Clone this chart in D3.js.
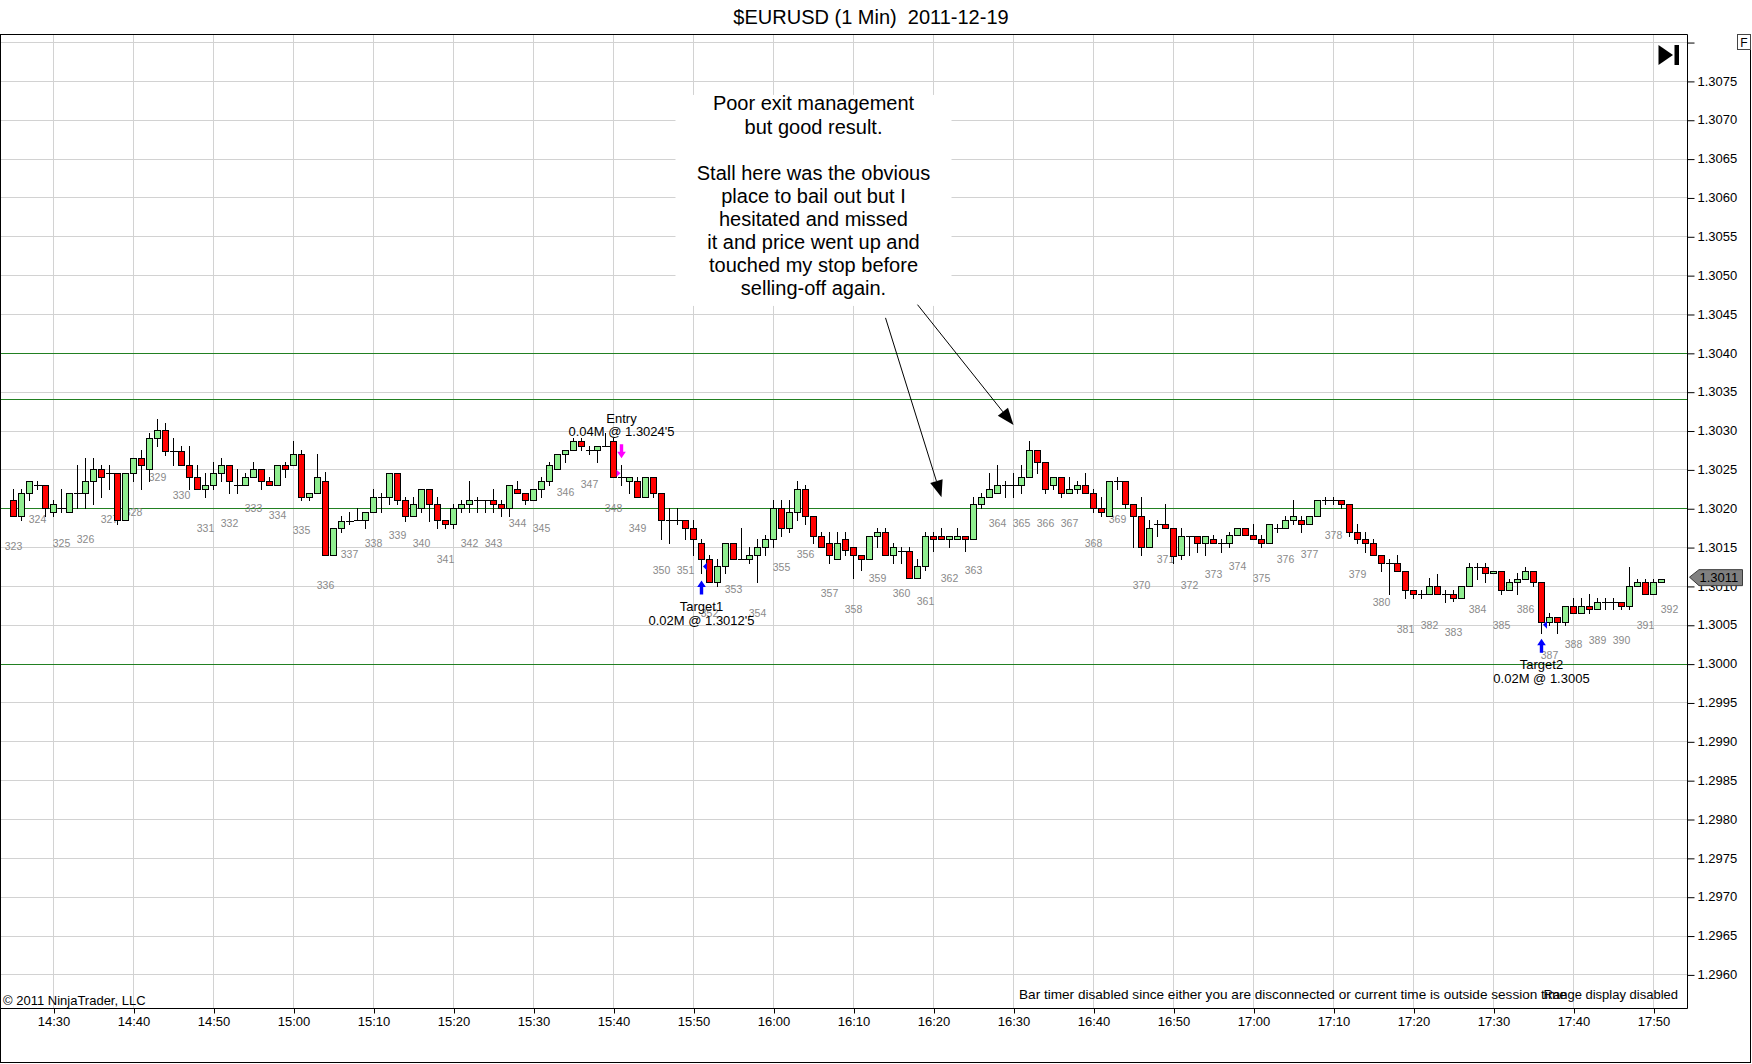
<!DOCTYPE html>
<html><head><meta charset="utf-8">
<script src="https://cdn.jsdelivr.net/npm/d3@7"></script>
<style>
html,body{margin:0;padding:0;background:#fff;}
svg{display:block;}
text{font-family:"Liberation Sans",Arial,sans-serif;}
</style>
</head><body>
<svg id="chart" width="1752" height="1064"></svg>
<script>
// ---------------- DATA ----------------
const chartTitle = "$EURUSD (1 Min)  2011-12-19";
const sessionDay = "2011-12-19";
const firstBarTime = "14:25";
const opens = [
1.30211,1.3019,1.3022,1.3023,1.3023,1.30195,1.3020,1.30195,1.3022,1.3022,
1.30235,1.3025,1.30245,1.30245,1.30185,1.30245,1.30265,1.3025,1.3029,1.30301,
1.30274,1.30274,1.30256,1.3024,1.30225,1.3023,1.30245,1.30256,1.3023,1.3023,
1.3024,1.3025,1.30235,1.3023,1.30256,1.30256,1.3027,1.30214,1.3022,1.30235,
1.3014,1.30174,1.30184,1.30185,1.30185,1.30195,1.30214,1.30214,1.30245,1.30211,
1.3019,1.3020,1.30225,1.30205,1.30185,1.3018,1.3020,1.30205,1.30211,1.30211,
1.30211,1.30205,1.3020,1.30225,1.3022,1.30211,1.30225,1.30235,1.3025,1.3027,
1.30275,1.30286,1.30275,1.30275,1.3028,1.30286,1.3024,1.30235,1.30235,1.30214,
1.3024,1.3022,1.30185,1.30185,1.30185,1.30174,1.30155,1.30135,1.30105,1.30125,
1.30155,1.30135,1.30135,1.3014,1.3015,1.3016,1.3020,1.30174,1.30195,1.30225,
1.3019,1.30164,1.30155,1.30135,1.3016,1.3015,1.3014,1.30135,1.30164,1.30169,
1.3014,1.30145,1.30145,1.3011,1.30125,1.30164,1.30164,1.3016,1.3016,1.30164,
1.3016,1.30205,1.30214,1.3022,1.3023,1.3023,1.3023,1.3024,1.30275,1.3026,
1.3023,1.3024,1.3022,1.30225,1.3023,1.3022,1.3020,1.3019,1.30235,1.30235,
1.30205,1.3019,1.3015,1.3018,1.3018,1.30174,1.3014,1.30164,1.30164,1.30155,
1.3016,1.30155,1.30155,1.30165,1.30174,1.30165,1.3016,1.30155,1.30174,1.30174,
1.30185,1.30185,1.3018,1.3019,1.30211,1.30211,1.30211,1.30205,1.3017,1.3016,
1.30155,1.3014,1.30129,1.30129,1.30119,1.30095,1.30089,1.30089,1.301,1.30089,
1.30089,1.30084,1.301,1.30124,1.30124,1.30116,1.30119,1.30095,1.30105,1.30109,
1.30119,1.30105,1.30054,1.3006,1.30054,1.30074,1.30065,1.30074,1.3007,1.30079,
1.30079,1.30079,1.30074,1.301,1.30105,1.30089,1.30105];
const highs = [
1.30225,1.30225,1.30235,1.30235,1.3023,1.30211,1.30225,1.3022,1.30256,1.30265,
1.30265,1.30256,1.30256,1.30245,1.30245,1.30265,1.30275,1.30297,1.30315,1.3031,
1.3029,1.3028,1.3028,1.30256,1.30245,1.3026,1.30265,1.30256,1.3025,1.30245,
1.3026,1.3025,1.3024,1.30256,1.3026,1.30286,1.30275,1.3022,1.3027,1.30246,
1.30174,1.3019,1.30195,1.3020,1.30195,1.30225,1.3022,1.30245,1.30245,1.30214,
1.30214,1.30225,1.30225,1.30214,1.30185,1.30205,1.30211,1.30235,1.30215,1.30211,
1.30225,1.30211,1.3023,1.30235,1.3022,1.30225,1.3024,1.3026,1.3027,1.30275,
1.3029,1.3029,1.3028,1.3028,1.30297,1.3029,1.30256,1.3024,1.3024,1.3024,
1.3024,1.3022,1.3020,1.3020,1.30185,1.30185,1.3016,1.3014,1.30135,1.30155,
1.30155,1.30174,1.3015,1.3016,1.30166,1.30211,1.30211,1.30211,1.30235,1.3023,
1.3019,1.30169,1.30169,1.30169,1.30169,1.3015,1.3014,1.30164,1.30174,1.30174,
1.30155,1.3015,1.3015,1.30135,1.30169,1.30169,1.30174,1.30164,1.30174,1.30164,
1.30215,1.3022,1.30245,1.30256,1.30235,1.30245,1.30256,1.30286,1.30275,1.3026,
1.3024,1.3024,1.3024,1.30235,1.30245,1.30225,1.30214,1.30235,1.3024,1.30235,
1.30205,1.30214,1.30185,1.30185,1.30205,1.30174,1.30174,1.30164,1.30164,1.30164,
1.30165,1.3016,1.3017,1.30174,1.30174,1.3018,1.30165,1.3018,1.3018,1.3019,
1.30211,1.3019,1.3019,1.30211,1.30215,1.30215,1.30211,1.30205,1.3018,1.3017,
1.3016,1.3014,1.30135,1.3014,1.30119,1.30095,1.30095,1.3011,1.30115,1.30095,
1.30095,1.301,1.30129,1.30129,1.30129,1.30119,1.30119,1.30109,1.30116,1.30124,
1.30119,1.30105,1.30065,1.3006,1.30074,1.30084,1.30084,1.30089,1.30084,1.30084,
1.30084,1.30079,1.30124,1.30109,1.30109,1.30109,1.30109];
const lows = [
1.3019,1.30185,1.30211,1.30225,1.3019,1.3019,1.30195,1.30195,1.3020,1.3020,
1.30205,1.30214,1.30225,1.3018,1.30185,1.30235,1.30225,1.30235,1.3028,1.30269,
1.30256,1.30256,1.30225,1.30225,1.30214,1.30225,1.30235,1.3022,1.3022,1.3023,
1.3024,1.30225,1.3023,1.3023,1.3024,1.30256,1.30211,1.30211,1.3022,1.3014,
1.3014,1.30169,1.3018,1.30185,1.30174,1.30195,1.30195,1.30205,1.30205,1.30184,
1.3019,1.30195,1.30184,1.30174,1.30174,1.30174,1.30195,1.30195,1.30195,1.30195,
1.30195,1.3019,1.3019,1.3022,1.30205,1.30211,1.30214,1.3023,1.3025,1.3026,
1.30275,1.30275,1.3027,1.3026,1.3028,1.3024,1.3023,1.3022,1.30214,1.30214,
1.30214,1.3016,1.30155,1.3018,1.3016,1.3014,1.30117,1.30105,1.301,1.30117,
1.30135,1.30135,1.3013,1.30105,1.3014,1.3015,1.30164,1.30169,1.30185,1.3018,
1.30155,1.3015,1.3013,1.30135,1.3014,1.3011,1.3012,1.30135,1.3015,1.3014,
1.3013,1.3013,1.3011,1.3011,1.3012,1.30145,1.3016,1.3015,1.3016,1.30145,
1.3016,1.3020,1.30214,1.3022,1.30214,1.30214,1.3022,1.3024,1.30245,1.3022,
1.30225,1.30214,1.3022,1.3022,1.3022,1.30195,1.3019,1.3019,1.30225,1.3020,
1.3015,1.3014,1.3015,1.30164,1.30174,1.30129,1.30135,1.3014,1.30144,1.3014,
1.30155,1.30144,1.3015,1.30165,1.30165,1.3016,1.3015,1.30155,1.3017,1.30174,
1.3018,1.3017,1.3018,1.3019,1.30205,1.30205,1.3020,1.30164,1.30155,1.30144,
1.3014,1.30119,1.30089,1.30119,1.30084,1.30084,1.30084,1.30089,1.30089,1.30079,
1.3008,1.30084,1.301,1.30109,1.30105,1.30116,1.30089,1.30095,1.30089,1.30109,
1.301,1.30039,1.3005,1.30039,1.3005,1.30065,1.30065,1.30065,1.3007,1.3007,
1.3007,1.3007,1.3007,1.301,1.30089,1.30089,1.30105];
const closes = [
1.3019,1.3022,1.30235,1.3023,1.3020,1.30205,1.3020,1.3022,1.3022,1.30235,
1.3025,1.3024,1.30245,1.30185,1.30245,1.30265,1.30256,1.3029,1.30301,1.30274,
1.30274,1.30256,1.3024,1.30225,1.3023,1.30245,1.30256,1.30235,1.3023,1.3024,
1.3025,1.30235,1.3023,1.30256,1.3025,1.3027,1.30214,1.3022,1.3024,1.3014,
1.30174,1.30184,1.30184,1.30185,1.30195,1.30214,1.30214,1.30245,1.30211,1.3019,
1.30205,1.30225,1.30205,1.30185,1.3018,1.3020,1.30205,1.30211,1.30211,1.30211,
1.30205,1.3020,1.3023,1.3022,1.30211,1.30225,1.30235,1.30256,1.3027,1.30275,
1.30286,1.3028,1.30275,1.3028,1.3028,1.3024,1.3024,1.3024,1.30214,1.3024,
1.3022,1.30185,1.30185,1.30185,1.30174,1.3016,1.30135,1.30105,1.30125,1.30155,
1.30135,1.30135,1.3014,1.3015,1.3016,1.3020,1.30174,1.30195,1.30225,1.3019,
1.30164,1.3015,1.3014,1.30155,1.30146,1.3014,1.30135,1.30164,1.30169,1.3014,
1.3015,1.30145,1.3011,1.30125,1.30164,1.3016,1.3016,1.30164,1.30164,1.3016,
1.30205,1.30214,1.30225,1.3023,1.3023,1.3023,1.3024,1.30275,1.3026,1.30225,
1.3024,1.3022,1.30225,1.3023,1.3022,1.3020,1.30195,1.30235,1.30235,1.30205,
1.3019,1.3015,1.30174,1.3018,1.30174,1.30139,1.30164,1.30164,1.30155,1.30164,
1.30155,1.30155,1.30165,1.30174,1.30165,1.3016,1.30155,1.3018,1.30174,1.30185,
1.3019,1.3018,1.3019,1.30211,1.30211,1.30211,1.30205,1.3017,1.3016,1.30155,
1.3014,1.30129,1.30129,1.30119,1.30095,1.30089,1.30089,1.301,1.30089,1.30089,
1.30084,1.301,1.30124,1.30124,1.30116,1.30119,1.30095,1.30105,1.30109,1.30119,
1.30105,1.30054,1.3006,1.30054,1.30074,1.30065,1.30074,1.3007,1.30079,1.30079,
1.30079,1.30074,1.301,1.30105,1.30089,1.30105,1.30109];
const lastPrice = 1.3011;
const firstBarNumber = 323;     // bar counter label shown every 3rd bar
const barNumberStep = 3;
const barNumberCount = 70;      // 323 .. 392

const levelLines = [1.3040, 1.3034, 1.3020, 1.3000];

const xTickLabels = ["14:30","14:40","14:50","15:00","15:10","15:20","15:30","15:40","15:50",
  "16:00","16:10","16:20","16:30","16:40","16:50","17:00","17:10","17:20","17:30","17:40","17:50"];
const yTickValues = [1.2960,1.2965,1.2970,1.2975,1.2980,1.2985,1.2990,1.2995,1.3000,1.3005,1.3010,
  1.3015,1.3020,1.3025,1.3030,1.3035,1.3040,1.3045,1.3050,1.3055,1.3060,1.3065,1.3070,1.3075,1.3080];
const yLabelMax = 1.3075;

const execBars = [76, 86, 191];
const execPrices = [1.30245, 1.30125, 1.3005];
const execSides = ["sell", "buy", "buy"];
const execNames = ["Entry", "Target1", "Target2"];
const execTexts = ["0.04M @ 1.3024'5", "0.02M @ 1.3012'5", "0.02M @ 1.3005"];

const noteLines = ["Poor exit management", "but good result.", "", "Stall here was the obvious",
  "place to bail out but I", "hesitated and missed", "it and price went up and",
  "touched my stop before", "selling-off again."];
const noteAnchor = {time: "16:05", price: 1.30712};
const noteArrowsFrom = [{time: "16:14", price: 1.30445}, {time: "16:18", price: 1.30462}];
const noteArrowsTo   = [{time: "16:21", price: 1.30214}, {time: "16:30", price: 1.30307}];

const copyrightText = "\u00A9 2011 NinjaTrader, LLC";
const statusText = "Bar timer disabled since either you are disconnected or current time is outside session time";
const rangeText = "Range display disabled";

// ---------------- SCALES ----------------
const svg = d3.select("#chart");
const parse = d3.timeParse("%Y-%m-%d %H:%M");
const T = s => parse(sessionDay + " " + s);
const plotL = 0.5, plotT = 34.5, plotR = 1687.5, plotB = 1008.5;

const x = d3.scaleTime().domain([T("14:30"), T("17:50")]).range([53.5, 1653.5]);
const y = d3.scaleLinear().domain([1.2960, 1.3075]).range([974.4, 80.9]);
const px = v => Math.floor(x(v)) + 0.5;
const py = v => Math.round(y(v)) + 0.5;

const t0 = T(firstBarTime);
const bars = opens.map((o, i) => ({
  i, t: d3.timeMinute.offset(t0, i), o, h: highs[i], l: lows[i], c: closes[i]
}));

svg.append("rect").attr("width", 1752).attr("height", 1064).attr("fill", "#fff");

const defs = svg.append("defs");
defs.append("clipPath").attr("id", "plotclip").append("rect")
  .attr("x", 1).attr("y", 35).attr("width", plotR - 1).attr("height", plotB - 35);

const plot = svg.append("g").attr("clip-path", "url(#plotclip)");

// grid
const gridColor = "#d2d2d2";
plot.append("g").selectAll("line").data(xTickLabels).join("line")
  .attr("x1", d => px(T(d))).attr("x2", d => px(T(d)))
  .attr("y1", plotT).attr("y2", plotB)
  .attr("stroke", gridColor).attr("stroke-width", 1);
plot.append("g").selectAll("line").data(yTickValues).join("line")
  .attr("x1", plotL).attr("x2", plotR)
  .attr("y1", d => py(d)).attr("y2", d => py(d))
  .attr("stroke", gridColor).attr("stroke-width", 1);

// level lines
plot.append("g").selectAll("line").data(levelLines).join("line")
  .attr("x1", plotL).attr("x2", plotR)
  .attr("y1", d => py(d)).attr("y2", d => py(d))
  .attr("stroke", "#228022").attr("stroke-width", 1);

// note box background (hides the grid like the original text object)
const nax = x(T(noteAnchor.time)), nay = y(noteAnchor.price);
plot.append("rect").attr("x", nax - 138).attr("y", nay - 15.5)
  .attr("width", 276).attr("height", 211).attr("fill", "#fff");

// bar number labels
const barNums = d3.range(barNumberCount).map(k => ({
  n: firstBarNumber + k, i: k * barNumberStep
}));
plot.append("g").selectAll("text").data(barNums).join("text")
  .attr("x", d => px(d3.timeMinute.offset(t0, d.i)))
  .attr("y", d => y(d.i < lows.length ? lows[d.i] : lastPrice) + 34.5)
  .attr("text-anchor", "middle")
  .attr("font-size", "10.5px").attr("fill", "#8a8a8a")
  .text(d => d.n);

// candles
const cg = plot.append("g");
cg.selectAll("line.wick").data(bars).join("line").attr("class", "wick")
  .attr("x1", d => px(d.t)).attr("x2", d => px(d.t))
  .attr("y1", d => py(d.h) - 0.5).attr("y2", d => py(d.l) + 0.5)
  .attr("stroke", "#000").attr("stroke-width", 1);
const isDoji = d => Math.round(y(d.o)) === Math.round(y(d.c));
cg.selectAll("line.doji").data(bars.filter(isDoji)).join("line").attr("class", "doji")
  .attr("x1", d => px(d.t) - 3.5).attr("x2", d => px(d.t) + 4.5)
  .attr("y1", d => py(d.o)).attr("y2", d => py(d.o))
  .attr("stroke", "#000").attr("stroke-width", 1);
cg.selectAll("rect.body").data(bars.filter(d => !isDoji(d))).join("rect").attr("class", "body")
  .attr("x", d => px(d.t) - 3)
  .attr("y", d => Math.min(py(d.o), py(d.c)))
  .attr("width", 6)
  .attr("height", d => Math.abs(py(d.o) - py(d.c)))
  .attr("fill", d => d.c >= d.o ? "#90ee90" : "#ff0000")
  .attr("stroke", "#000").attr("stroke-width", 1);

// executions
const execs = execBars.map((b, k) => ({
  t: d3.timeMinute.offset(t0, b), price: execPrices[k], side: execSides[k],
  name: execNames[k], text: execTexts[k]
}));
const eg = plot.append("g");
execs.forEach(e => {
  const cx = px(e.t), fy = y(e.price);
  const col = e.side === "sell" ? "#ff00ff" : "#0000ff";
  if (e.side === "sell") {
    eg.append("path").attr("d", `M${cx - 1},${fy} L${cx - 5},${fy - 3.5} L${cx - 5},${fy + 3.5} Z`).attr("fill", col);
    const tip = fy - 15, top = fy - 29;
    eg.append("path").attr("d",
      `M${cx},${tip} L${cx + 4.3},${tip - 6.5} L${cx + 1.7},${tip - 6.5} L${cx + 1.7},${top} L${cx - 1.7},${top} L${cx - 1.7},${tip - 6.5} L${cx - 4.3},${tip - 6.5} Z`)
      .attr("fill", col);
    eg.append("text").attr("x", cx).attr("y", fy - 37.3).attr("text-anchor", "middle")
      .attr("font-size", "13px").attr("fill", "#000").text(e.text);
    eg.append("text").attr("x", cx).attr("y", fy - 50.6).attr("text-anchor", "middle")
      .attr("font-size", "13px").attr("fill", "#000").text(e.name);
  } else {
    eg.append("path").attr("d", `M${cx + 1.5},${fy} L${cx + 5.5},${fy - 4} L${cx + 5.5},${fy + 4} Z`).attr("fill", col);
    const tip = fy + 14, bot = fy + 28;
    eg.append("path").attr("d",
      `M${cx},${tip} L${cx + 4.3},${tip + 6.5} L${cx + 1.7},${tip + 6.5} L${cx + 1.7},${bot} L${cx - 1.7},${bot} L${cx - 1.7},${tip + 6.5} L${cx - 4.3},${tip + 6.5} Z`)
      .attr("fill", col);
    eg.append("text").attr("x", cx).attr("y", fy + 44.2).attr("text-anchor", "middle")
      .attr("font-size", "13px").attr("fill", "#000").text(e.name);
    eg.append("text").attr("x", cx).attr("y", fy + 58.5).attr("text-anchor", "middle")
      .attr("font-size", "13px").attr("fill", "#000").text(e.text);
  }
});

// note text
plot.append("g").selectAll("text").data(noteLines).join("text")
  .attr("x", nax).attr("y", (d, k) => nay + k * 23.1)
  .attr("text-anchor", "middle").attr("font-size", "20px").attr("fill", "#000")
  .text(d => d);

// note arrows
const ag = plot.append("g");
noteArrowsFrom.forEach((f, k) => {
  const x1 = x(T(f.time)), y1 = y(f.price);
  const x2 = x(T(noteArrowsTo[k].time)), y2 = y(noteArrowsTo[k].price);
  const ang = Math.atan2(y2 - y1, x2 - x1);
  const L = 17, Wd = 6.5;
  const bx = x2 - L * Math.cos(ang), by = y2 - L * Math.sin(ang);
  ag.append("line").attr("x1", x1).attr("y1", y1).attr("x2", bx).attr("y2", by)
    .attr("stroke", "#000").attr("stroke-width", 1);
  const p1 = [bx + Wd * Math.sin(ang), by - Wd * Math.cos(ang)];
  const p2 = [bx - Wd * Math.sin(ang), by + Wd * Math.cos(ang)];
  ag.append("path").attr("d", `M${x2},${y2} L${p1[0]},${p1[1]} L${p2[0]},${p2[1]} Z`).attr("fill", "#000");
});

// ---------------- AXES ----------------
const xAxis = d3.axisBottom(x).tickValues(xTickLabels.map(T))
  .tickFormat(d3.timeFormat("%H:%M")).tickSize(5).tickPadding(3);
const xg = svg.append("g").attr("transform", `translate(0,${plotB})`).call(xAxis);
xg.select(".domain").remove();
xg.selectAll(".tick line").attr("stroke", "#000").attr("transform", "translate(0.5,0)");
xg.selectAll("text").attr("font-size", "13px").attr("fill", "#000")
  .attr("font-family", "'Liberation Sans',Arial,sans-serif");

const yAxis = d3.axisRight(y).tickValues(yTickValues)
  .tickFormat(d => d > yLabelMax + 1e-7 ? "" : d3.format(".4f")(d)).tickSize(7).tickPadding(3);
const yg = svg.append("g").attr("transform", `translate(${plotR},0)`).call(yAxis);
yg.select(".domain").remove();
yg.selectAll(".tick line").attr("stroke", "#000").attr("transform", "translate(0,0.5)");
yg.selectAll("text").attr("font-size", "13px").attr("fill", "#000")
  .attr("font-family", "'Liberation Sans',Arial,sans-serif");

// frame lines
const fr = svg.append("g").attr("stroke", "#000").attr("stroke-width", 1);
fr.append("line").attr("x1", 0).attr("x2", plotR).attr("y1", plotT).attr("y2", plotT);
fr.append("line").attr("x1", plotR).attr("x2", plotR).attr("y1", plotT).attr("y2", plotB);
fr.append("line").attr("x1", 0).attr("x2", plotR).attr("y1", plotB).attr("y2", plotB);
fr.append("line").attr("x1", plotL).attr("x2", plotL).attr("y1", plotT).attr("y2", 1063);
fr.append("line").attr("x1", 0).attr("x2", 1751).attr("y1", 1062.5).attr("y2", 1062.5);
fr.append("line").attr("x1", 1750.5).attr("x2", 1750.5).attr("y1", 49).attr("y2", 1063);

// current price marker
const lp = y(lastPrice) - 1;
svg.append("path")
  .attr("d", `M1689.5,${lp} L1699,${lp - 7.5} L1742.5,${lp - 7.5} L1742.5,${lp + 8.5} L1699,${lp + 8.5} Z`)
  .attr("fill", "#808080").attr("stroke", "#3c3c3c").attr("stroke-width", 1);
svg.append("text").attr("x", 1699.5).attr("y", lp + 5).attr("font-size", "13px").attr("fill", "#000")
  .text(d3.format(".4f")(lastPrice));

// scroll-to-end icon and F button
svg.append("path").attr("d", "M1658.5,45 L1673,55 L1658.5,65 Z").attr("fill", "#000");
svg.append("rect").attr("x", 1674.5).attr("y", 45).attr("width", 4.5).attr("height", 20).attr("fill", "#000");
svg.append("rect").attr("x", 1737.5).attr("y", 34.5).attr("width", 13).attr("height", 15)
  .attr("fill", "#fff").attr("stroke", "#444");
svg.append("text").attr("x", 1744).attr("y", 46.5).attr("text-anchor", "middle")
  .attr("font-size", "12px").attr("fill", "#000").text("F");

// title and footer texts
svg.append("text").attr("x", 871).attr("y", 24).attr("text-anchor", "middle")
  .style("white-space", "pre").attr("xml:space", "preserve")
  .attr("font-size", "20px").attr("fill", "#000").text(chartTitle);
svg.append("text").attr("x", 3).attr("y", 1005).attr("font-size", "13px").attr("fill", "#000")
  .text(copyrightText);
svg.append("text").attr("x", 1019).attr("y", 999).attr("font-size", "13.6px").attr("fill", "#000")
  .text(statusText);
svg.append("text").attr("x", 1678).attr("y", 999).attr("text-anchor", "end")
  .attr("font-size", "13px").attr("fill", "#000").text(rangeText);
</script>
</body></html>
